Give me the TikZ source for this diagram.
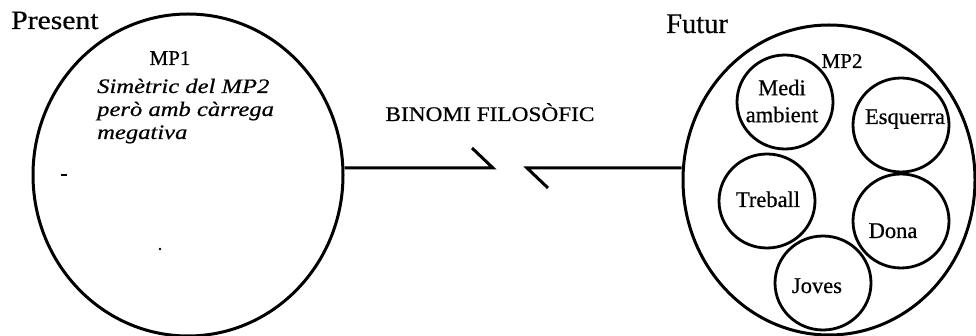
\documentclass[tikz,border=0pt]{standalone}
\usepackage{fontspec}
\setmainfont[FakeBold=0.6]{Liberation Serif}
\newfontfamily\wideserif[FakeStretch=1.12,FakeBold=0.6]{Liberation Serif}
\newfontfamily\itserif[FakeStretch=1.2,FakeBold=0.6]{Liberation Serif}
\newfontfamily\midserif[FakeStretch=1.0,FakeBold=0.6]{Liberation Serif}
\usetikzlibrary{shapes.geometric}
\begin{document}
\begin{tikzpicture}[x=1pt,y=-1pt,
  bigell/.style={draw, ellipse, line width=3pt, inner sep=0pt},
  smallell/.style={draw, ellipse, line width=2.8pt, inner sep=0pt, minimum width=96pt, minimum height=94pt},
  lbl/.style={inner sep=0pt, font=\midserif\fontsize{22.5}{27}\selectfont, align=center},
  conn/.style={line width=3pt, line join=miter}
]
\useasboundingbox (0,0) rectangle (976,336);

% big circles
\node[bigell, minimum width=310pt, minimum height=322pt] (L) at (188,175) {};
\node[bigell, minimum width=292pt, minimum height=310pt] (R) at (829,180) {};

% titles
\node[inner sep=0pt, anchor=base west, font=\wideserif\fontsize{26.5}{30}\selectfont] (present) at (11,29) {Present};
\node[inner sep=0pt, anchor=base west, font=\fontsize{28.5}{32}\selectfont] (futur) at (666,33) {Futur};

% left text
\node[inner sep=0pt, anchor=base, font=\fontsize{21}{24}\selectfont] (mp1) at (170,65) {MP1};
\node[inner sep=0pt, anchor=base west, font=\itserif\itshape\fontsize{20.5}{23}\selectfont] (it1) at (97,93) {Simètric del MP2};
\node[inner sep=0pt, anchor=base west, font=\itserif\itshape\fontsize{20.5}{23}\selectfont] (it2) at (97,116) {però amb càrrega};
\node[inner sep=0pt, anchor=base west, font=\itserif\itshape\fontsize{20.5}{23}\selectfont] (it3) at (97,139) {megativa};

% middle
\node[inner sep=0pt, anchor=base, font=\wideserif\fontsize{20.8}{24}\selectfont] (binomi) at (490,121) {BINOMI FILOSÒFIC};

% connectors
\coordinate (tipL) at (493,168);
\coordinate (tickL) at (472,148);
\coordinate (tipR) at (527,168);
\coordinate (tickR) at (548,188);
\draw[conn] (tipL -| L.east) -- (tipL) -- (tickL);
\draw[conn] (tickR) -- (tipR) -- (tipR -| R.west);

% right inner
\node[inner sep=0pt, anchor=base, font=\midserif\fontsize{21}{24}\selectfont] (mp2) at (842,68) {MP2};
\node[smallell] (medi) at (785,102) {};
\node[smallell] (esq) at (901,125) {};
\node[smallell] (treb) at (767,201) {};
\node[smallell] (dona) at (901,221) {};
\node[smallell] (joves) at (823,283) {};

\node[lbl] (tmedi) at (782,101) {Medi\\ambient};
\node[lbl, anchor=base] (tesq) at (905,124) {Esquerra};
\node[lbl, anchor=base] (ttreb) at (768,207) {Treball};
\node[lbl, anchor=base] (tdona) at (893,238) {Dona};
\node[lbl, anchor=base] (tjoves) at (817,293) {Joves};

% scan marks
\draw[line width=2pt] (61,175) -- (67,175);
\fill (160,249) circle (1.4pt);
\end{tikzpicture}
\end{document}
